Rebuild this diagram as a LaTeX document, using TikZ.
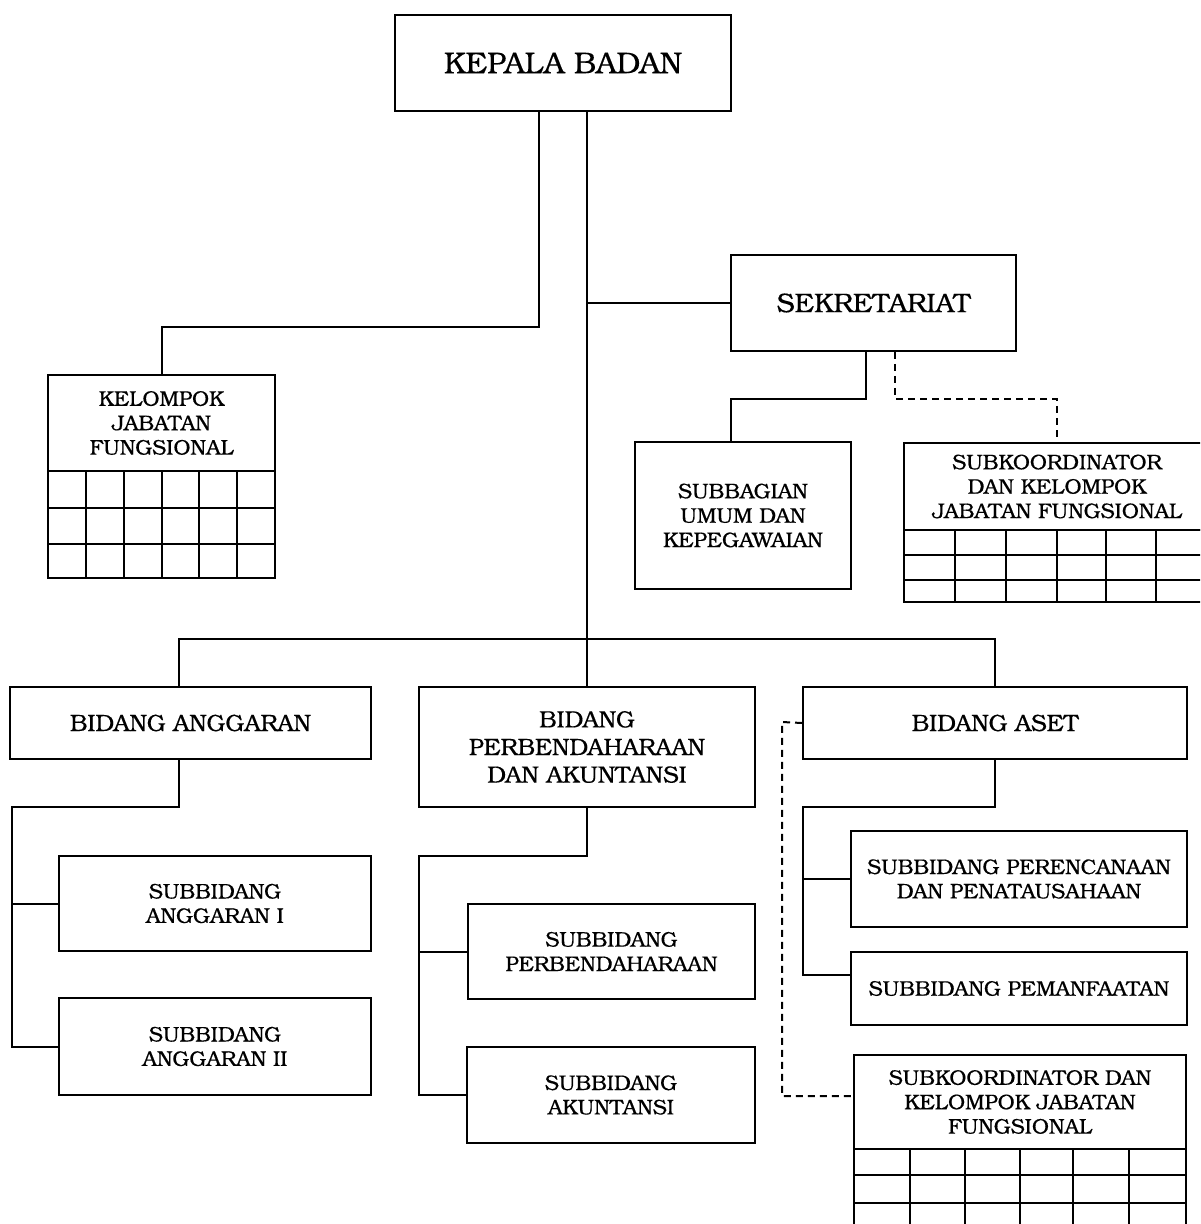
\documentclass[tikz,border=0pt]{standalone}
\usepackage{fontspec}
\setmainfont{TeX Gyre Bonum}[BoldFont=TeX Gyre Bonum, BoldFeatures={FakeBold=0.35}]
\begin{document}
\begin{tikzpicture}[x=0.5pt,y=-0.5pt,
  line width=1pt,
  box/.style={draw, line width=1pt, inner sep=0pt, align=center, anchor=center, fill=white},
  fsmall/.style={font=\fontsize{10.6}{12.2}\selectfont\bfseries},
  fmid/.style={font=\fontsize{11.8}{13.8}\selectfont\bfseries},
  fbig/.style={font=\fontsize{13.5}{16}\selectfont\bfseries},
  fhuge/.style={font=\fontsize{15}{18}\selectfont\bfseries},
  dashline/.style={dash pattern=on 3.5pt off 2.5pt}]
\clip (0,0) rectangle (1200,1224);
\fill[white] (0,0) rectangle (1200,1224);

% boxes
\node[box, fhuge, minimum width=168pt, minimum height=48pt] (kepala) at (563,63) {KEPALA BADAN};
\node[box, fsmall, minimum width=113.5pt, minimum height=48pt] (kjf) at (161.5,423) {KELOMPOK\\JABATAN\\FUNGSIONAL};
\node[box, fbig, minimum width=142.5pt, minimum height=48pt] (sek) at (873.5,303) {SEKRETARIAT};
\node[box, fsmall, minimum width=108pt, minimum height=73.5pt] (subbag) at (743,515.5) {SUBBAGIAN\\UMUM DAN\\KEPEGAWAIAN};
\node[box, fsmall, minimum width=153pt, minimum height=43.5pt] (skt) at (1057,486.5) {SUBKOORDINATOR\\DAN KELOMPOK\\JABATAN FUNGSIONAL};
\node[box, fmid, minimum width=180.5pt, minimum height=36pt] (ba) at (190.5,723) {BIDANG ANGGARAN};
\node[box, fmid, minimum width=168pt, minimum height=60pt] (bp) at (587,747) {BIDANG\\PERBENDAHARAAN\\DAN AKUNTANSI};
\node[box, fmid, minimum width=192pt, minimum height=36pt] (bas) at (995,723) {BIDANG ASET};
\node[box, fsmall, minimum width=156pt, minimum height=47.5pt] (sa1) at (215,903.5) {SUBBIDANG\\ANGGARAN I};
\node[box, fsmall, minimum width=156pt, minimum height=48.5pt] (sa2) at (215,1046.5) {SUBBIDANG\\ANGGARAN II};
\node[box, fsmall, minimum width=143.5pt, minimum height=47.5pt] (sp) at (611.5,951.5) {SUBBIDANG\\PERBENDAHARAAN};
\node[box, fsmall, minimum width=144pt, minimum height=48pt] (sak) at (611,1095) {SUBBIDANG\\AKUNTANSI};
\node[box, fsmall, minimum width=168pt, minimum height=48pt] (spp) at (1019,879) {SUBBIDANG PERENCANAAN\\DAN PENATAUSAHAAN};
\node[box, fsmall, minimum width=168pt, minimum height=36.5pt] (spm) at (1019,988.5) {SUBBIDANG PEMANFAATAN};
\node[box, fsmall, minimum width=166pt, minimum height=47pt] (skb) at (1020,1102) {SUBKOORDINATOR DAN\\KELOMPOK JABATAN\\FUNGSIONAL};

% grids
\draw (48,471) rectangle (275,578);
\foreach \yy in {508,544} \draw (48,\yy) -- (275,\yy);
\foreach \xx in {86,124,162,199,237} \draw (\xx,471) -- (\xx,578);

\draw (904,530) rectangle (1210,602);
\foreach \yy in {555,580} \draw (904,\yy) -- (1210,\yy);
\foreach \xx in {955,1006,1057,1106,1156} \draw (\xx,530) -- (\xx,602);

\draw (854,1149) rectangle (1186,1240);
\foreach \yy in {1175,1203} \draw (854,\yy) -- (1186,\yy);
\foreach \xx in {910,965,1020,1073,1129} \draw (\xx,1149) -- (\xx,1240);

% connectors
\coordinate (j1) at (539,327);
\draw (j1 |- kepala.south) -- (j1) -| (kjf.north);
\coordinate (tr) at (587,639);
\draw (tr |- kepala.south) -- (tr);
\draw (tr |- sek.west) -- (sek.west);
\coordinate (busL) at (179,639);
\coordinate (busR) at (995,639);
\draw (busL |- ba.north) -- (busL) -- (busR) -- (bas.north);
\draw (tr) -- (bp.north);

\coordinate (s1) at (866,399);
\coordinate (s2) at (731,399);
\draw (s1 |- sek.south) -- (s1) -- (s2) -- (s2 |- subbag.north);
\coordinate (d1) at (895,399);
\coordinate (d2) at (1057,399);
\draw[dashline] (d1 |- sek.south) -- (d1) -- (d2) -- (skt.north);

\coordinate (a1) at (179,807);
\coordinate (a2) at (12,807);
\draw (a1 |- ba.south) -- (a1) -- (a2) |- (sa2.west);
\draw (a2 |- sa1.west) -- (sa1.west);

\coordinate (p1) at (587,856);
\coordinate (p2) at (419,856);
\draw (bp.south) -- (p1) -- (p2) |- (sak.west);
\draw (p2 |- sp.west) -- (sp.west);

\coordinate (e1) at (995,807);
\coordinate (e2) at (803,807);
\coordinate (e3) at (803,975);
\draw (bas.south) -- (e1) -- (e2) -- (e3) -- (e3 -| spm.west);
\draw (e2 |- spp.west) -- (spp.west);

\coordinate (f1) at (782,722);
\coordinate (f2) at (782,1096);
\draw[dashline] (bas.west) -- (f1) -- (f2) -- (f2 -| skb.west);
\end{tikzpicture}
\end{document}
